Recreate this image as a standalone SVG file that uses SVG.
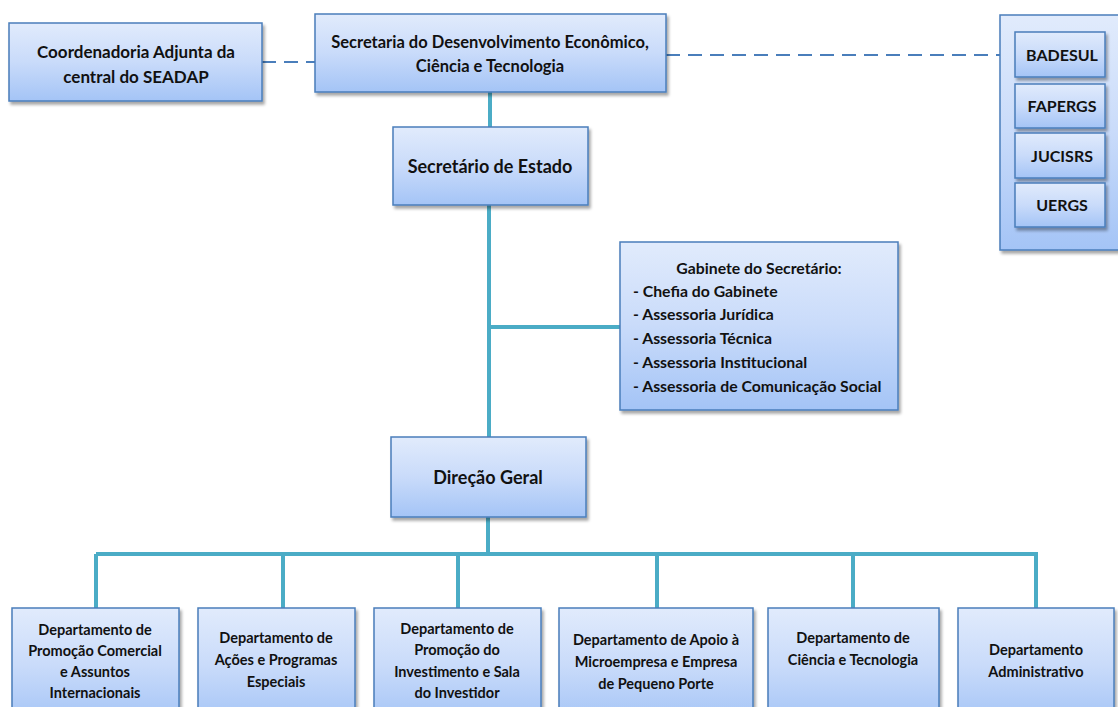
<svg xmlns="http://www.w3.org/2000/svg" width="1118" height="707" viewBox="0 0 1118 707">
<defs>
<linearGradient id="g" x1="0" y1="0" x2="0" y2="1">
<stop offset="0" stop-color="#e1ebfc"/>
<stop offset="0.5" stop-color="#c9dbfa"/>
<stop offset="1" stop-color="#a4c4f6"/>
</linearGradient>
<filter id="sh" x="-10%" y="-10%" width="125%" height="130%">
<feDropShadow dx="2" dy="3" stdDeviation="1.6" flood-color="#000" flood-opacity="0.35"/>
</filter>
</defs>
<style>
.box{fill:url(#g);stroke:#4a7ebb;stroke-width:1.5;filter:url(#sh)}
.t{font-family:Lato,"Liberation Sans",sans-serif;font-weight:bold;fill:#111;text-anchor:middle}
.l{text-anchor:start}
.c{stroke:#4bacc6;stroke-width:4;fill:none}
.d{stroke:#4a7ebb;stroke-width:2;stroke-dasharray:14,8;fill:none}
</style>
<rect width="1118" height="707" fill="#fff"/>
<g id="connectors">
<path class="d" d="M262,62 H315"/>
<path class="d" d="M666,55 H1000"/>
<path class="c" d="M490,92 V127"/>
<path class="c" d="M489,205 V437"/>
<path class="c" d="M489,327 H620"/>
<path class="c" d="M488,517 V554"/>
<path class="c" d="M96,554 H1038"/>
<path class="c" d="M96,554 V608 M283,554 V608 M458,554 V608 M657,554 V608 M853,554 V608 M1036,554 V608"/>
</g>
<g id="coordenadoria">
<rect class="box" x="9" y="23" width="253" height="78"/>
<text class="t" font-size="17" x="136" y="58">Coordenadoria Adjunta da</text>
<text class="t" font-size="17" x="136" y="83">central do SEADAP</text>
</g>
<g id="secretaria">
<rect class="box" x="315" y="14" width="351" height="78"/>
<text class="t" font-size="16.5" x="490" y="48">Secretaria do Desenvolvimento Econômico,</text>
<text class="t" font-size="16.5" x="490" y="72">Ciência e Tecnologia</text>
</g>
<g id="vinculadas">
<rect class="box" x="1000" y="15" width="125" height="235"/>
<g id="badesul"><rect class="box" x="1015" y="32" width="90" height="45"/><text class="t" font-size="16" x="1062" y="61">BADESUL</text></g>
<g id="fapergs"><rect class="box" x="1015" y="84" width="90" height="44"/><text class="t" font-size="16" x="1062" y="112">FAPERGS</text></g>
<g id="jucisrs"><rect class="box" x="1015" y="133" width="90" height="45"/><text class="t" font-size="16" x="1062" y="162">JUCISRS</text></g>
<g id="uergs"><rect class="box" x="1015" y="183" width="90" height="44"/><text class="t" font-size="16" x="1062" y="211">UERGS</text></g>
</g>
<g id="secretario">
<rect class="box" x="393" y="127" width="195" height="78"/>
<text class="t" font-size="18" x="490" y="173">Secretário de Estado</text>
</g>
<g id="gabinete">
<rect class="box" x="620" y="242" width="278" height="168"/>
<text class="t" font-size="15.8" x="759" y="274">Gabinete do Secretário:</text>
<text class="t l" font-size="15.8" x="633" y="297">- Chefia do Gabinete</text>
<text class="t l" font-size="15.8" x="633" y="320">- Assessoria Jurídica</text>
<text class="t l" font-size="15.8" x="633" y="344">- Assessoria Técnica</text>
<text class="t l" font-size="15.8" x="633" y="368">- Assessoria Institucional</text>
<text class="t l" font-size="15.8" x="633" y="392">- Assessoria de Comunicação Social</text>
</g>
<g id="direcao">
<rect class="box" x="391" y="437" width="195" height="80"/>
<text class="t" font-size="18" x="488" y="484">Direção Geral</text>
</g>
<g id="dep1">
<rect class="box" x="12" y="608" width="167" height="115"/>
<text class="t" font-size="14.5" x="95" y="635">Departamento de</text>
<text class="t" font-size="14.5" x="95" y="656">Promoção Comercial</text>
<text class="t" font-size="14.5" x="95" y="677">e Assuntos</text>
<text class="t" font-size="14.5" x="95" y="698">Internacionais</text>
</g>
<g id="dep2">
<rect class="box" x="198" y="608" width="157" height="115"/>
<text class="t" font-size="14.5" x="276" y="643">Departamento de</text>
<text class="t" font-size="14.5" x="276" y="665">Ações e Programas</text>
<text class="t" font-size="14.5" x="276" y="687">Especiais</text>
</g>
<g id="dep3">
<rect class="box" x="374" y="608" width="167" height="115"/>
<text class="t" font-size="14.5" x="457" y="634">Departamento de</text>
<text class="t" font-size="14.5" x="457" y="655">Promoção do</text>
<text class="t" font-size="14.5" x="457" y="677">Investimento e Sala</text>
<text class="t" font-size="14.5" x="457" y="698">do Investidor</text>
</g>
<g id="dep4">
<rect class="box" x="559" y="608" width="194" height="115"/>
<text class="t" font-size="14.5" x="656" y="645">Departamento de Apoio à</text>
<text class="t" font-size="14.5" x="656" y="667">Microempresa e Empresa</text>
<text class="t" font-size="14.5" x="656" y="689">de Pequeno Porte</text>
</g>
<g id="dep5">
<rect class="box" x="768" y="608" width="171" height="115"/>
<text class="t" font-size="14.5" x="853" y="643">Departamento de</text>
<text class="t" font-size="14.5" x="853" y="665">Ciência e Tecnologia</text>
</g>
<g id="dep6">
<rect class="box" x="958" y="608" width="156" height="115"/>
<text class="t" font-size="14.5" x="1036" y="655">Departamento</text>
<text class="t" font-size="14.5" x="1036" y="677">Administrativo</text>
</g>
</svg>
